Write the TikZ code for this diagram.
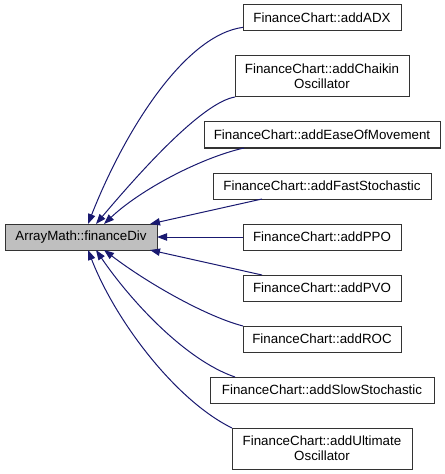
\documentclass[tikz,border=0pt]{standalone}
\usepackage{fontspec}
\setmainfont{Liberation Sans}
\usetikzlibrary{positioning}
\usetikzlibrary{arrows.meta}
\definecolor{edgeblue}{HTML}{191970}
\definecolor{divgray}{HTML}{BFBFBF}

\begin{document}
\begin{tikzpicture}[x=0.75pt, y=-0.75pt,
    fn/.style={draw=black!80, line width=0.75pt, inner sep=2pt, outer sep=0pt, minimum height=19.5pt, align=center, font=\fontsize{10}{11.5}\selectfont},
    fntwo/.style={fn, minimum height=30.75pt},
    call/.style={draw=edgeblue, line width=0.75pt, -{Triangle[length=7.5pt,width=5.5pt,fill=edgeblue]}},
    node distance=18.75pt]

    \useasboundingbox (0,0) rectangle (445,474);

    \node [fn, fill=divgray, minimum width=114pt] (div) at (81,237) {ArrayMath::financeDiv};

    \node [fn, minimum width=118.5pt] (adx) at (322,18) {FinanceChart::addADX};
    \node [fntwo, minimum width=130.5pt, below=of adx] (chaikin) {FinanceChart::addChaikin\\Oscillator};
    \node [fn, minimum width=177pt, below=of chaikin] (ease) {FinanceChart::addEaseOfMovement};
    \node [fn, minimum width=163.5pt, below=of ease] (fast) {FinanceChart::addFastStochastic};
    \node [fn, minimum width=118.5pt, below=of fast] (ppo) {FinanceChart::addPPO};
    \node [fn, minimum width=118.5pt, below=of ppo] (pvo) {FinanceChart::addPVO};
    \node [fn, minimum width=118.5pt, below=of pvo] (roc) {FinanceChart::addROC};
    \node [fn, minimum width=168pt, below=of roc] (slow) {FinanceChart::addSlowStochastic};
    \node [fntwo, minimum width=135pt, below=of slow] (ultimate) {FinanceChart::addUltimate\\Oscillator};

    \draw [call] ([yshift=-7pt]adx.west) .. controls (185,35) and (125,130) .. ([xshift=5.25pt]div.north);
    \draw [call] (chaikin.south west) .. controls (205,102) and (150,160) .. ([xshift=11.25pt]div.north);
    \draw [call] ([xshift=30pt]ease.south west) .. controls (200,158) and (140,190) .. ([xshift=17.25pt]div.north);
    \draw [call] ([xshift=36.75pt]fast.south west) -- ([xshift=-5.25pt]div.north east);
    \draw [call] (ppo.west) -- (div.east);
    \draw [call] ([xshift=14.25pt]pvo.north west) -- ([xshift=-5.25pt]div.south east);
    \draw [call] (roc.north west) .. controls (208,317) and (150,285) .. ([xshift=17.25pt]div.south);
    \draw [call] ([xshift=18.75pt]slow.north west) .. controls (185,360) and (130,300) .. ([xshift=11.25pt]div.south);
    \draw [call] (ultimate.north west) .. controls (175,400) and (115,320) .. ([xshift=5.25pt]div.south);

\end{tikzpicture}
\end{document}
